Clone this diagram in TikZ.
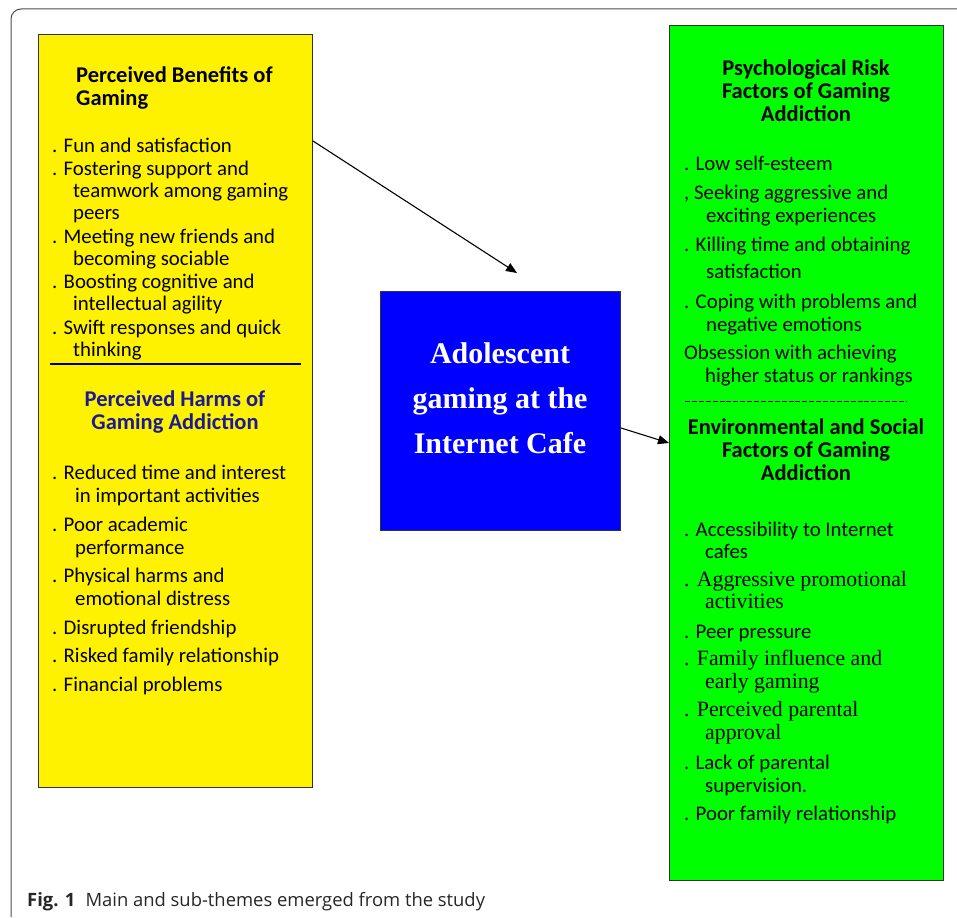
\documentclass[tikz,border=0pt]{standalone}
\usepackage{fontspec}
\setmainfont{Carlito}
\newfontfamily\timesf{Liberation Serif}
\newfontfamily\capf{Open Sans}
\usetikzlibrary{arrows.meta}
\definecolor{harmblue}{HTML}{1A1A99}
\begin{document}
\begin{tikzpicture}[x=1pt,y=-1pt,
 txt/.style={anchor=mid west,inner sep=0pt,yshift=-4pt,font=\fontsize{20.8}{22.5}\selectfont},
 tms/.style={anchor=mid west,inner sep=0pt,yshift=-3pt,font=\fontsize{21.8}{22.5}\timesf},
 ttl/.style={align=center,inner sep=0pt,font=\fontsize{22.5}{23}\selectfont\bfseries},
 box/.style={draw=black!80,line width=1pt,inner sep=0pt,anchor=north west},
 arr/.style={-{Triangle[length=11pt,width=9pt]},line width=1.1pt}
]
\useasboundingbox (0,0) rectangle (957,917);
\draw[black!70,line width=1pt,rounded corners=10pt] (957,9) -- (11,9) -- (11,917);

% boxes
\node[box,fill=yellow,minimum width=274,minimum height=753] (yb) at (38,34) {};
\node[box,fill=green,minimum width=274,minimum height=855] (gb) at (669,25) {};
\node[box,fill=blue,minimum width=240,minimum height=239] (bb) at (380,291) {};

% centre text
\node[align=center,inner sep=0pt,text=white,font=\fontsize{30}{45}\timesf\bfseries] (bt) at (500,398)
 {Adolescent\\gaming at the\\Internet Cafe};

% yellow: benefits
\node[ttl,align=left,anchor=west] (bt1) at (76,88) {Perceived Benefits of\\Gaming};
\node[txt] (y1) at (52,146) {. Fun and satisfaction};
\node[txt] (y2) at (52,169) {. Fostering support and};
\node[txt] (y2a) at (73,191) {teamwork among gaming};
\node[txt] (y2b) at (73,213) {peers};
\node[txt] (y3) at (52,237) {. Meeting new friends and};
\node[txt] (y3a) at (73,259) {becoming sociable};
\node[txt] (y4) at (52,282) {. Boosting cognitive and};
\node[txt] (y4a) at (73,304) {intellectual agility};
\node[txt] (y5) at (52,328) {. Swift responses and quick};
\node[txt] (y5a) at (73,350) {thinking};
\draw[line width=1.3pt] (50,364) -- (301,364);

% yellow: harms
\node[ttl,text=harmblue] (ht) at (175,412) {Perceived Harms of\\Gaming Addiction};
\node[txt] (h1) at (52,473) {. Reduced time and interest};
\node[txt] (h1a) at (75,496) {in important activities};
\node[txt] (h2) at (52,525) {. Poor academic};
\node[txt] (h2a) at (75,548) {performance};
\node[txt] (h3) at (52,576) {. Physical harms and};
\node[txt] (h3a) at (75,599) {emotional distress};
\node[txt] (h4) at (52,628) {. Disrupted friendship};
\node[txt] (h5) at (52,656) {. Risked family relationship};
\node[txt] (h6) at (52,685) {. Financial problems};

% green: psychological
\node[ttl] (pt) at (806,91) {Psychological Risk\\Factors of Gaming\\Addiction};
\node[txt] (p1) at (684,164) {. Low self-esteem};
\node[txt] (p2) at (684,193) {, Seeking aggressive and};
\node[txt] (p2a) at (706,216) {exciting experiences};
\node[txt] (p3) at (684,245) {. Killing time and obtaining};
\node[txt] (p3a) at (706,272) {satisfaction};
\node[txt] (p4) at (684,302) {. Coping with problems and};
\node[txt] (p4a) at (706,325) {negative emotions};
\node[txt] (p5) at (684,353) {Obsession with achieving};
\node[txt] (p5a) at (705,376) {higher status or rankings};
\draw[line width=1pt,dash pattern=on 5pt off 1.9pt] (685,401) -- (907,401);

% green: environmental
\node[ttl] (et) at (806,450) {Environmental and Social\\Factors of Gaming\\Addiction};
\node[txt] (e1) at (684,530) {. Accessibility to Internet};
\node[txt] (e1a) at (705,552) {cafes};
\node[tms] (e2) at (684,581) {. Aggressive promotional};
\node[tms] (e2a) at (705,603) {activities};
\node[txt] (e3) at (684,632) {. Peer pressure};
\node[tms] (e4) at (684,660) {. Family influence and};
\node[tms] (e4a) at (705,683) {early gaming};
\node[tms] (e5) at (684,711) {. Perceived parental};
\node[tms] (e5a) at (705,734) {approval};
\node[txt] (e6) at (684,763) {. Lack of parental};
\node[txt] (e6a) at (705,786) {supervision.};
\node[txt] (e7) at (684,814) {. Poor family relationship};

% connectors
\coordinate (a1) at (517,273);
\draw[arr] ([yshift=-107pt]yb.north east) -- (a1);
\draw[arr] ([yshift=-137pt]bb.north east) -- ([yshift=-418pt]gb.north west);

% caption
\node[anchor=mid west,inner sep=0pt,text=black!85,font=\capf\fontsize{18.4}{20}\selectfont] (cap) at (27,904)
 {\textbf{Fig. 1}\hspace{0.55em}Main and sub-themes emerged from the study};
\end{tikzpicture}
\end{document}
